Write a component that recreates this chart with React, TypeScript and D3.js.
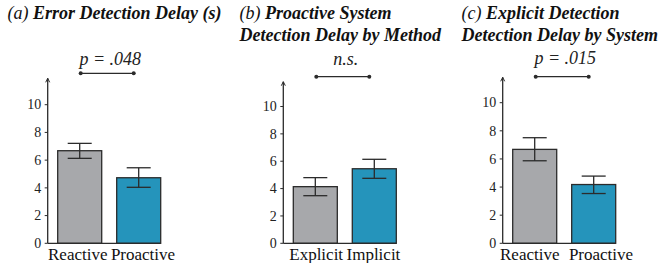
import React from "react";
import * as d3 from "d3";

// ---- data ----
const panelTitles: string[][] = [
  ["(a) ", "Error Detection Delay (s)"],
  ["(b) ", "Proactive System", "Detection Delay by Method"],
  ["(c) ", "Explicit Detection", "Detection Delay by System"],
];
const panelCategories: string[][] = [
  ["Reactive", "Proactive"],
  ["Explicit", "Implicit"],
  ["Reactive", "Proactive"],
];
const panelMeans: number[][] = [
  [6.68, 4.73],
  [4.14, 5.45],
  [6.68, 4.18],
];
const panelErrLow: number[][] = [
  [6.13, 4.04],
  [3.48, 4.75],
  [5.87, 3.54],
];
const panelErrHigh: number[][] = [
  [7.21, 5.45],
  [4.8, 6.14],
  [7.51, 4.78],
];
const sigLabels: string[] = ["p = .048", "n.s.", "p = .015"];
const yTicks: number[] = [0, 2, 4, 6, 8, 10];

// ---- layout ----
const axisX = [47.7, 283.3, 502.7];
const yZero = 243.3;
const yTen = [104.7, 106.5, 102.7];
const yTop = [78.3, 81.7, 77.3];
const bracketY = [73.3, 76.7, 76.7];
const labelY = [65, 65, 64];
const titleX = [7.5, 239.5, 461.5];
const labelGap = [1.7, 1.7, 4.7];
const barColors = ["#a7a8ab", "#2594bb"];
const ink = "#2b2b2b";
const serif = "Liberation Serif, Times New Roman, Times, serif";

function Panel({ i }: { i: number }) {
  const ax = axisX[i];
  const y = d3.scaleLinear().domain([0, 10]).range([yZero, yTen[i]]);
  const x = d3
    .scaleBand<string>()
    .domain(panelCategories[i])
    .range([ax + 10, ax + 113])
    .paddingInner(0.254)
    .paddingOuter(0);
  const bw = x.bandwidth();
  const cats = panelCategories[i];
  const c0 = (x(cats[0]) as number) + bw / 2;
  const bx0 = c0 + 1;
  const bx1 = c0 + 54;
  const lastRight = (x(cats[cats.length - 1]) as number) + bw;
  const gapMid = ((x(cats[0]) as number) + bw + (x(cats[1]) as number)) / 2;
  const capHalf = 12;
  const title = panelTitles[i];
  return (
    <g>
      {/* title */}
      <text x={titleX[i]} y={19} fontFamily={serif} fontSize={18} fill="#111">
        <tspan fontStyle="italic">{title[0]}</tspan>
        <tspan fontStyle="italic" fontWeight="bold">{title[1]}</tspan>
      </text>
      {title.length > 2 && (
        <text x={titleX[i]} y={40.5} fontFamily={serif} fontSize={18} fill="#111" fontStyle="italic" fontWeight="bold">
          {title[2]}
        </text>
      )}
      {/* bars */}
      {cats.map((c, k) => (
        <rect
          key={c}
          x={x(c)}
          y={y(panelMeans[i][k])}
          width={bw}
          height={yZero - y(panelMeans[i][k])}
          fill={barColors[k]}
          stroke={ink}
          strokeWidth={1.3}
        />
      ))}
      {/* error bars */}
      {cats.map((c, k) => {
        const cx = (x(c) as number) + bw / 2;
        const lo = y(panelErrLow[i][k]);
        const hi = y(panelErrHigh[i][k]);
        return (
          <g key={"e" + c} stroke={ink} strokeWidth={1.3}>
            <line x1={cx} x2={cx} y1={lo} y2={hi} />
            <line x1={cx - capHalf} x2={cx + capHalf} y1={lo} y2={lo} />
            <line x1={cx - capHalf} x2={cx + capHalf} y1={hi} y2={hi} />
          </g>
        );
      })}
      {/* y axis */}
      <line x1={ax} x2={ax} y1={yZero} y2={yTop[i]} stroke={ink} strokeWidth={1.3} />
      <path d={`M${ax - 2},${yTop[i] + 4} L${ax},${yTop[i]} L${ax + 2},${yTop[i] + 4}`} fill="none" stroke={ink} strokeWidth={1} />
      <line x1={ax} x2={lastRight} y1={yZero} y2={yZero} stroke={ink} strokeWidth={1.3} />
      {yTicks.map((t) => (
        <g key={t}>
          <line x1={ax - 3} x2={ax} y1={y(t)} y2={y(t)} stroke={ink} strokeWidth={1} />
          <text x={ax - 6.5} y={y(t)} dy="0.34em" textAnchor="end" fontFamily={serif} fontSize={14} fill="#222">
            {t}
          </text>
        </g>
      ))}
      {/* x labels */}
      <text x={gapMid - labelGap[i]} y={260} textAnchor="end" fontFamily={serif} fontSize={17} fill="#111">
        {cats[0]}
      </text>
      <text x={gapMid + labelGap[i]} y={260} textAnchor="start" fontFamily={serif} fontSize={17} fill="#111">
        {cats[1]}
      </text>
      {/* significance bracket */}
      <line x1={bx0} x2={bx1} y1={bracketY[i]} y2={bracketY[i]} stroke={ink} strokeWidth={1.3} />
      <circle cx={bx0} cy={bracketY[i]} r={2} fill={ink} />
      <circle cx={bx1} cy={bracketY[i]} r={2} fill={ink} />
      <text
        x={(bx0 + bx1) / 2 + 3}
        y={labelY[i]}
        textAnchor="middle"
        fontFamily={serif}
        fontStyle="italic"
        fontSize={18}
        fill="#222"
      >
        {sigLabels[i]}
      </text>
    </g>
  );
}

export default function App() {
  return (
    <svg
      width={660}
      height={263}
      viewBox="0 0 660 263"
      style={{ position: "absolute", left: 0, top: 0, background: "#fff" }}
    >
      <rect width={660} height={263} fill="#fff" />
      {[0, 1, 2].map((i) => (
        <Panel key={i} i={i} />
      ))}
    </svg>
  );
}
